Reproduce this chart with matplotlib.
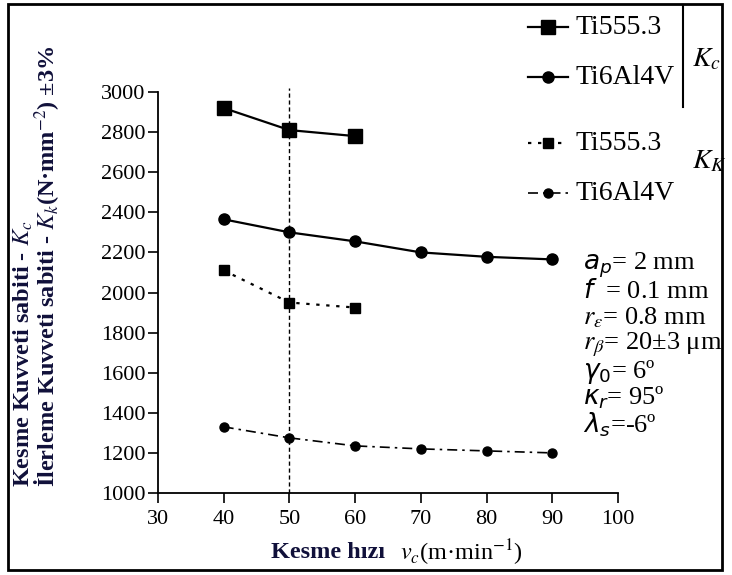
import matplotlib.pyplot as plt
from matplotlib.patches import Rectangle

plt.rcParams['font.family'] = ['Liberation Serif', 'DejaVu Serif']
plt.rcParams['mathtext.fontset'] = 'stix'

# cutting speed (m/min)
speed_kc_ti555 = [40, 50, 60]
kc_ti555 = [2920, 2810, 2780]
speed_ti64 = [40, 50, 60, 70, 80, 90]
kc_ti64 = [2365, 2300, 2255, 2200, 2178, 2165]
speed_kk_ti555 = [40, 50, 60]
kk_ti555 = [2110, 1950, 1925]
kk_ti64 = [1330, 1275, 1235, 1220, 1210, 1200]

x_ticks = [30, 40, 50, 60, 70, 80, 90, 100]
y_ticks = list(range(1000, 3001, 200))
series_names = ['Ti555.3', 'Ti6Al4V', 'Ti555.3', 'Ti6Al4V']
params = [r'$a_p$= 2 mm', r'$f$  = 0.1 mm', r'$r_\varepsilon$= 0.8 mm',
          r'$r_\beta$= 20±3 μm', r'$\gamma_0$= 6º', r'$\kappa_r$= 95º',
          r'$\lambda_s$=-6º']

W, H = 732, 575
fig = plt.figure(figsize=(W / 100, H / 100), dpi=100)
ax = fig.add_axes([158 / W, 1 - 493 / H, 460 / W, 401 / H])

styles = [
    dict(ls='-', marker='s', ms=10, lw=1.6),
    dict(ls='-', marker='o', ms=8, lw=1.6),
    dict(ls=(0, (1.5, 3)), marker='s', ms=6.5, lw=1.6),
    dict(ls=(0, (6, 3, 1.5, 3)), marker='o', ms=6.5, lw=1.2),
]
ax.plot(speed_kc_ti555, kc_ti555, color='black', **styles[0])
ax.plot(speed_ti64, kc_ti64, color='black', **styles[1])
ax.plot(speed_kk_ti555, kk_ti555, color='black', **styles[2])
ax.plot(speed_ti64, kk_ti64, color='black', **styles[3])
ax.plot([50, 50], [1000, 3020], color='black', ls=(0, (3, 2)), lw=1, clip_on=False)

ax.set_xlim(30, 100)
ax.set_ylim(1000, 3000)
ax.set_xticks(x_ticks)
ax.set_yticks(y_ticks)
ax.tick_params(labelsize=16, direction='out', length=7, width=1.2, colors='black')
ax.tick_params(axis='x', pad=5)
ax.tick_params(axis='y', pad=2)
for s in ['top', 'right']:
    ax.spines[s].set_visible(False)
for s in ['left', 'bottom']:
    ax.spines[s].set_linewidth(1.3)

# overlay in pixel coordinates for legend, notes, labels and frame
ov = fig.add_axes([0, 0, 1, 1], facecolor='none')
ov.set_xlim(0, W)
ov.set_ylim(H, 0)
ov.axis('off')
ov.add_patch(Rectangle((8, 4), 714, 566, fill=False, lw=2, ec='black'))

leg_y = [27, 77, 143, 193]
for y, name, st in zip(leg_y, series_names, styles):
    ov.plot([528, 568], [y, y], color='black', ls=st['ls'], lw=st['lw'])
    ov.plot([548], [y], color='black', marker=st['marker'], ms=st['ms'])
    ov.text(576, y + 1, name, fontsize=20, va='center', ha='left')
ov.plot([683, 683], [5, 107], color='black', lw=1.5)
ov.text(692, 60, r'$K_c$', fontsize=20, va='center', ha='left')
ov.text(692, 162, r'$K_K$', fontsize=20, va='center', ha='left')

py = [265, 291, 318, 345, 372, 398, 425]
for y, p in zip(py, params):
    t = ov.text(583, y, p, fontsize=19, va='center', ha='left')
    if not p.startswith(r'$r'):
        t.set_math_fontfamily('dejavusans')

ov.text(23, 487, r'Kesme Kuvveti sabiti - $K_c$', rotation=90, fontsize=17.5,
        fontweight='bold', ha='center', va='bottom', color='#10103a')
ov.text(48, 487, r'İlerleme Kuvveti sabiti - $K_k$(N·mm$^{-2}$) ±3%', rotation=90,
        fontsize=17.5, fontweight='bold', ha='center', va='bottom', color='#10103a')
ov.text(328, 553, 'Kesme hızı', fontsize=17.5, fontweight='bold', ha='center',
        va='center', color='#10103a')
ov.text(400, 553, r'$v_c$(m·min$^{-1}$)', fontsize=17.5, ha='left', va='center')

fig.savefig('out.png', dpi=100)
